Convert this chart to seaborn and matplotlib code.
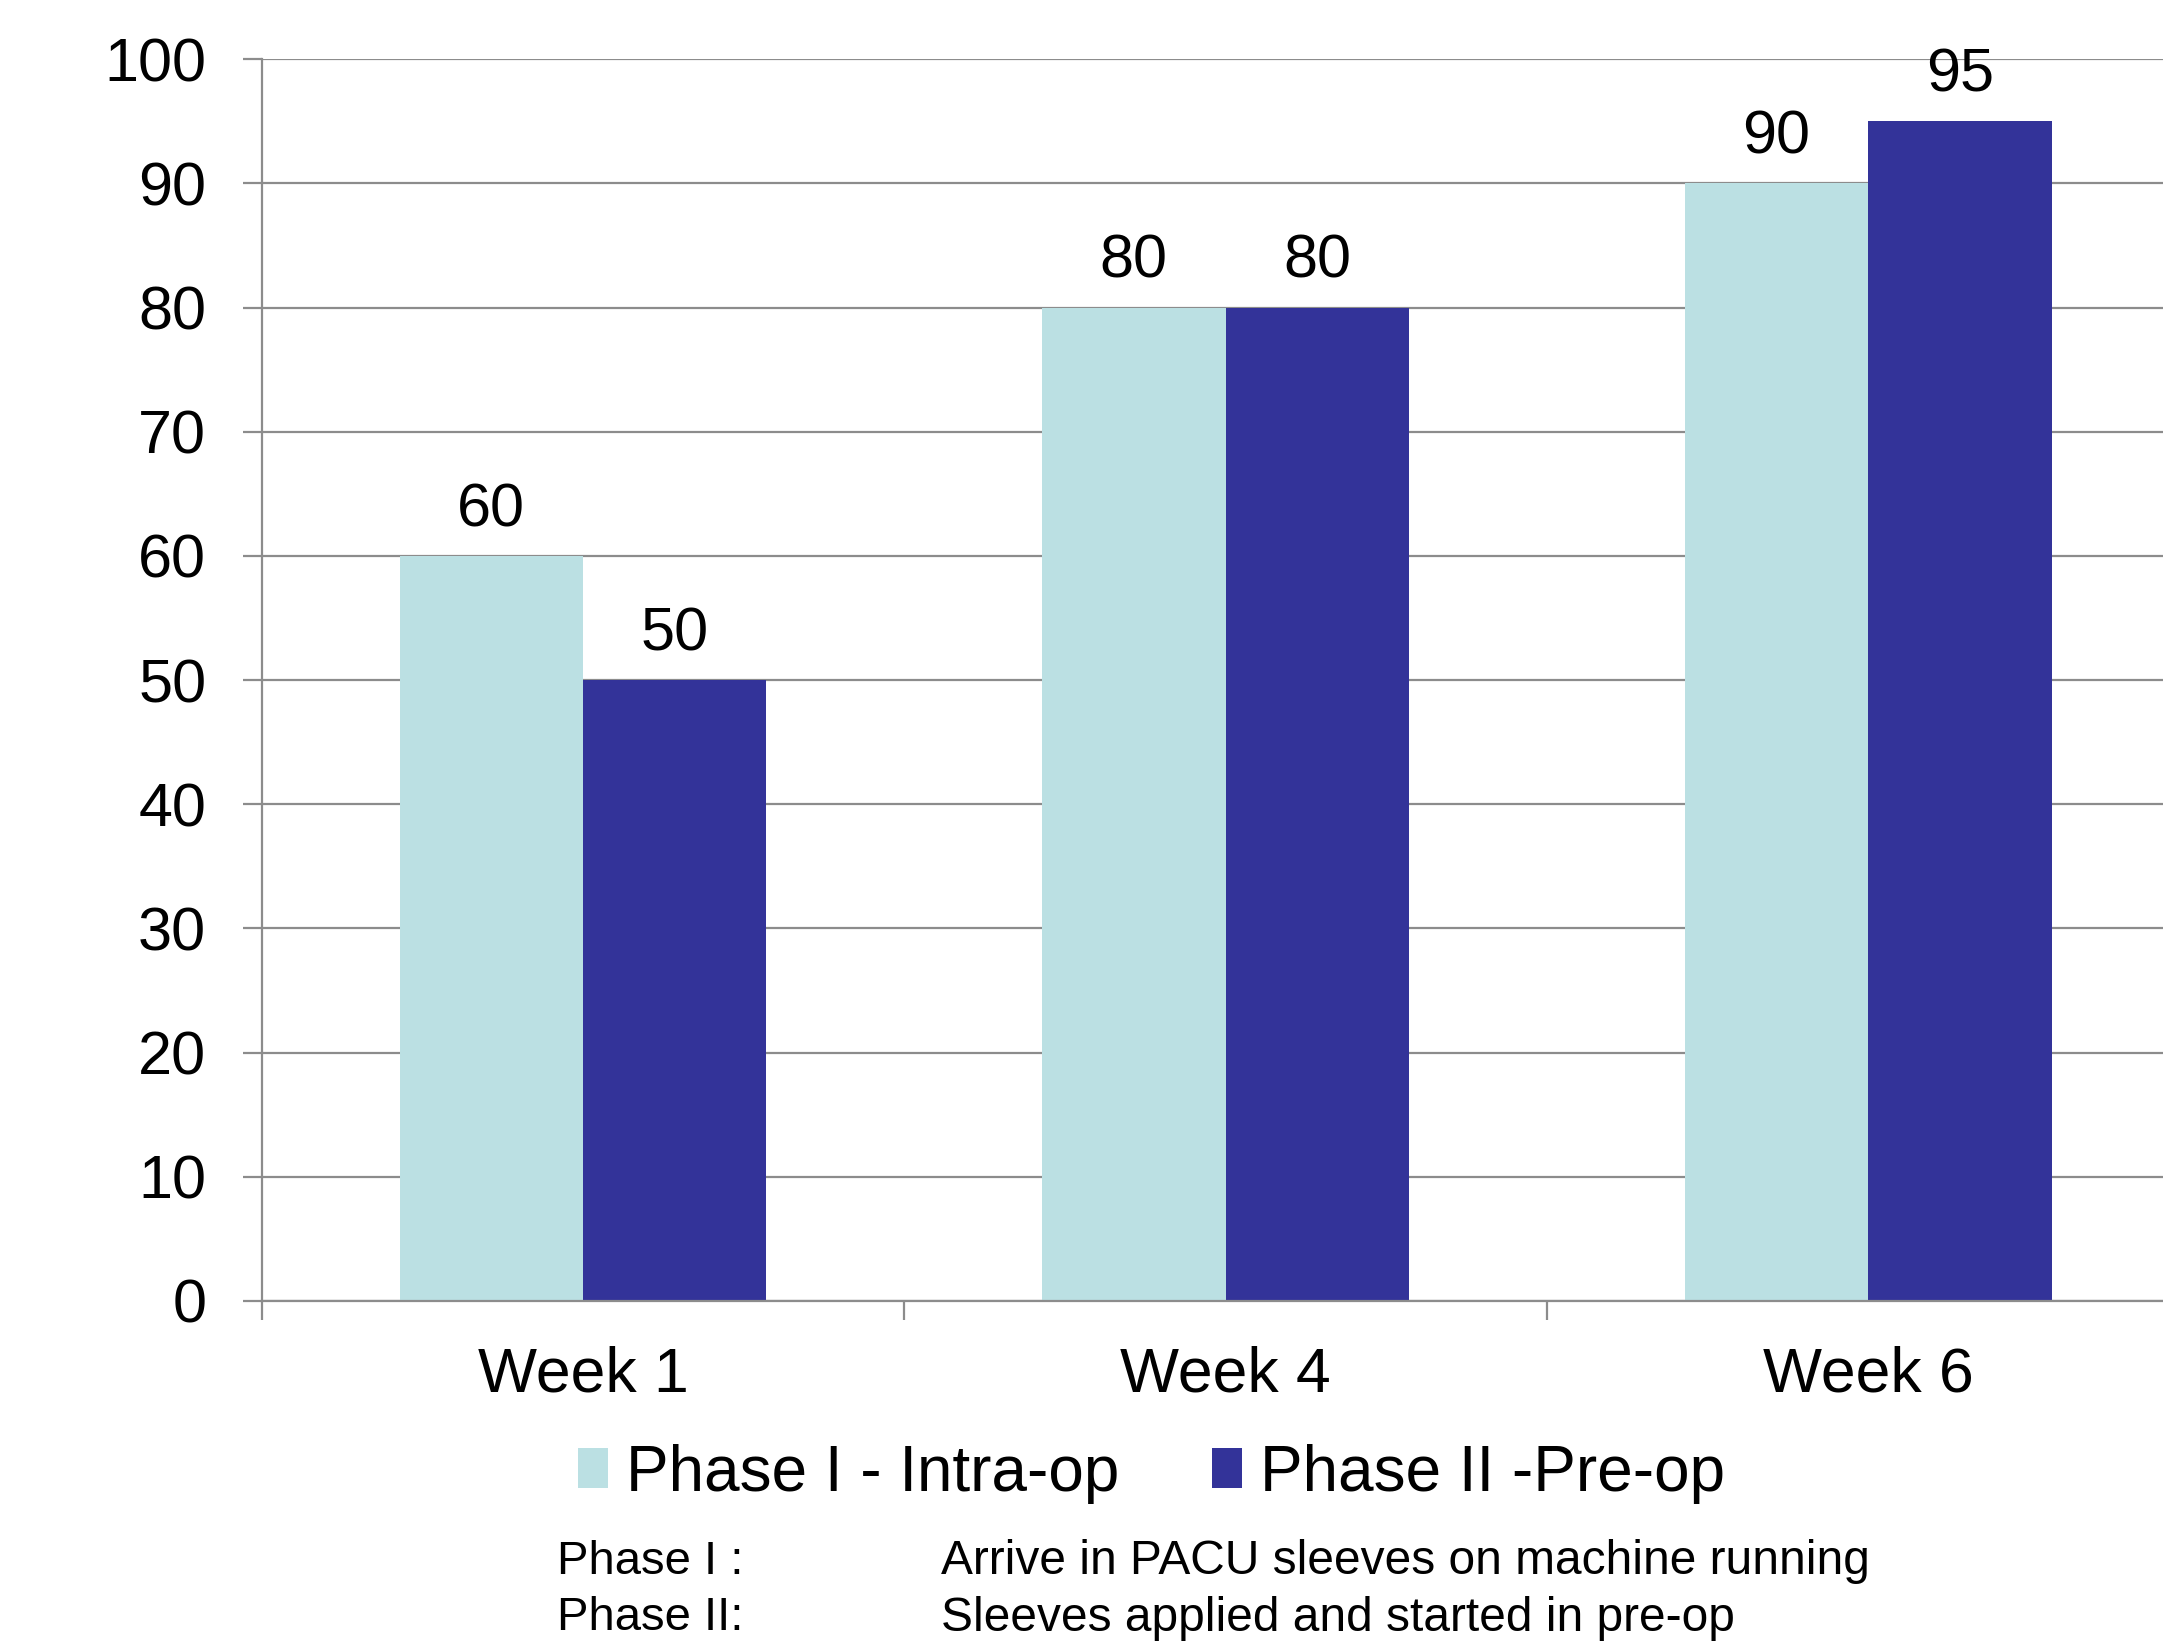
import numpy as np
import pandas as pd
import matplotlib
matplotlib.use('Agg')
import matplotlib.pyplot as plt
import seaborn as sns

# data
weeks = ['Week 1', 'Week 4', 'Week 6']
phases = ['Phase I - Intra-op', 'Phase II -Pre-op']
phase1 = [60, 80, 90]
phase2 = [50, 80, 95]

df = pd.DataFrame({'week': weeks * 2,
                   'phase': [phases[0]] * 3 + [phases[1]] * 3,
                   'value': phase1 + phase2})

colors = {phases[0]: '#BBE0E3', phases[1]: '#333399'}

sns.set_style('white')
plt.rcParams['font.family'] = ['Liberation Sans', 'DejaVu Sans']
plt.rcParams['text.color'] = 'black'
plt.rcParams['xtick.color'] = 'black'
plt.rcParams['ytick.color'] = 'black'

fig = plt.figure(figsize=(21.63, 16.46), dpi=100)
ax = fig.add_axes([0.121, 0.2096, 0.879, 0.7544])

sns.barplot(data=df, x='week', y='value', hue='phase', palette=colors,
            width=0.571, saturation=1, linewidth=0, ax=ax, legend=True)

for c in ax.containers:
    ax.bar_label(c, fmt='%g', padding=12, fontsize=44, color='black')

ax.set_ylim(0, 100)
ax.set_xlim(-0.5, 2.459)
ax.set_yticks(np.arange(0, 101, 10))
ax.yaxis.grid(True, color='#8c8c8c', linewidth=1.6)
ax.set_axisbelow(True)
ax.set_xlabel('')
ax.set_ylabel('')

# x ticks at category borders, labels at centers
ax.set_xticks([-0.5, 0.5, 1.5], minor=False)
ax.set_xticklabels([])
ax.set_xticks([0, 1, 2], minor=True)
ax.set_xticklabels(weeks, minor=True, fontsize=45)
ax.tick_params(axis='x', which='major', direction='out', length=14, width=1.6,
               color='#8c8c8c', bottom=True)
ax.tick_params(axis='x', which='minor', length=0, pad=32)
ax.tick_params(axis='y', direction='out', length=14, width=1.6, color='#8c8c8c',
               left=True, labelsize=44, labelcolor='black', pad=26)

for s in ['top', 'right']:
    ax.spines[s].set_visible(False)
for s in ['left', 'bottom']:
    ax.spines[s].set_color('#8c8c8c')
    ax.spines[s].set_linewidth(1.6)

ax.legend(loc='center', bbox_to_anchor=(0.468, -0.139), ncol=2, frameon=False,
          fontsize=46, handlelength=0.47, handleheight=0.6, handletextpad=0.28,
          columnspacing=1.44)

fig.text(0.2575, 0.0513, 'Phase I :', fontsize=34, va='center')
fig.text(0.435, 0.0513, 'Arrive in PACU sleeves on machine running', fontsize=34.5, va='center')
fig.text(0.2575, 0.0169, 'Phase II:', fontsize=34, va='center')
fig.text(0.435, 0.0169, 'Sleeves applied and started in pre-op', fontsize=34.5, va='center')

fig.savefig('out.png', dpi=100)
